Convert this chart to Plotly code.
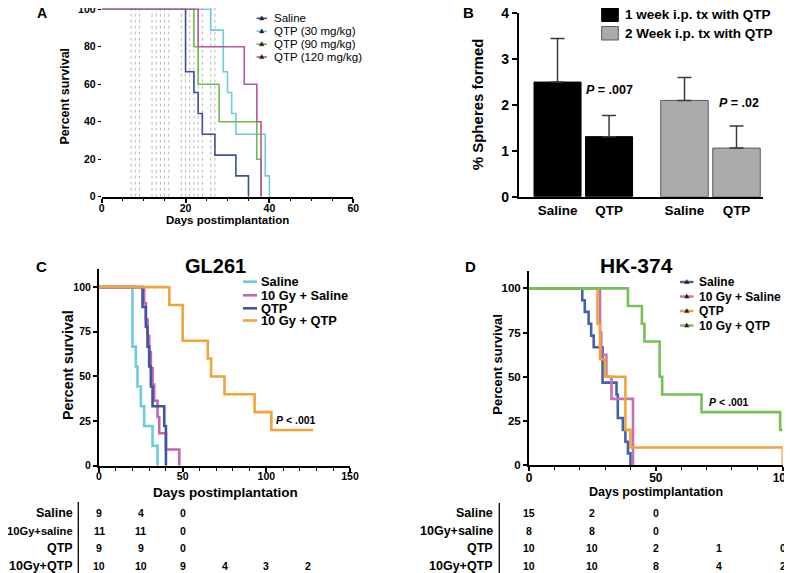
import plotly.graph_objects as go

W, H = 792, 573
OFF = 8  # the page places the figure 8 px from its top-left corner
FONT = "Liberation Sans, Arial, Helvetica, sans-serif"


def fx(p):
    return (p - OFF) / W


def fy(p):
    return min(1.0, max(0.0, 1 - (p - OFF) / H))


# ---------------- Panel A data ----------------
a_days_saline = [0, 20, 22, 23, 24, 27, 32, 35]
a_surv_saline = [100, 66.7, 55.6, 44.4, 33.3, 22.2, 11.1, 0]
a_days_qtp30 = [0, 26, 29, 30, 31, 32, 39, 40]
a_surv_qtp30 = [100, 88.9, 66.7, 55.6, 44.4, 33.3, 11.1, 0]
a_days_qtp90 = [0, 22, 23, 28, 37, 38]
a_surv_qtp90 = [100, 80, 60, 40, 20, 0]
a_days_qtp120 = [0, 23, 34, 37, 38]
a_surv_qtp120 = [100, 80, 60, 40, 0]
a_treatment_days = [7, 8, 9, 12, 13, 14, 15, 16, 19, 20, 21, 22, 23, 24, 26, 27]
a_names = ["Saline", "QTP (30 mg/kg)", "QTP (90 mg/kg)", "QTP (120 mg/kg)"]

# ---------------- Panel B data ----------------
b_categories = ["Saline", "QTP"]
b_week1_values = [2.5, 1.31]
b_week1_err = [0.95, 0.46]
b_week2_values = [2.1, 1.06]
b_week2_err = [0.5, 0.48]
b_series_names = ["1 week i.p. tx with QTP", "2 Week i.p. tx with QTP"]

# ---------------- Panel C data (GL261) ----------------
c_days_saline = [0, 20, 22, 23, 25, 27, 32, 35]
c_surv_saline = [100, 66.7, 55.6, 44.4, 33.3, 22.2, 11.1, 0]
c_days_10gy_saline = [0, 27, 28, 29, 30, 31, 32, 33, 35, 36, 40, 48]
c_surv_10gy_saline = [100, 90.9, 81.8, 72.7, 63.6, 54.5, 45.5, 36.4, 27.3, 18.2, 9.1, 0]
c_days_qtp = [0, 26, 28, 29, 30, 31, 32, 39, 40]
c_surv_qtp = [100, 88.9, 77.8, 66.7, 55.6, 44.4, 33.3, 22.2, 0]
c_days_10gy_qtp = [0, 42, 50, 65, 67, 75, 93, 103, 128]
c_surv_10gy_qtp = [100, 90, 70, 60, 50, 40, 30, 20, 20]
c_names = ["Saline", "10 Gy + Saline", "QTP", "10 Gy + QTP"]

# ---------------- Panel D data (HK-374) ----------------
d_days_saline = [0, 21, 22, 23.5, 24.5, 25.5, 29, 34.5, 35, 37, 38, 39, 40]
d_surv_saline = [100, 93.3, 86.7, 80, 73.3, 66.7, 46.7, 40, 26.7, 20, 13.3, 6.7, 0]
d_days_10gy_saline = [0, 28, 28.5, 30.5, 32.5, 41]
d_surv_10gy_saline = [100, 75, 62.5, 50, 37.5, 0]
d_days_qtp = [0, 27, 28, 30, 38, 40, 100]
d_surv_qtp = [100, 80, 60, 50, 20, 10, 0]
d_days_10gy_qtp = [0, 39, 44.5, 45.5, 51.5, 52.5, 68, 99, 100]
d_surv_10gy_qtp = [100, 90, 80, 70, 50, 40, 30, 20, 20]
d_names = ["Saline", "10 Gy + Saline", "QTP", "10 Gy + QTP"]

# ---------------- Numbers at risk ----------------
risk_row_labels = ["Saline", "10Gy+saline", "QTP", "10Gy+QTP"]
c_risk_days = [0, 25, 50, 75, 100, 125]
c_risk_saline = [9, 4, 0]
c_risk_10gy_saline = [11, 11, 0]
c_risk_qtp = [9, 9, 0]
c_risk_10gy_qtp = [10, 10, 9, 4, 3, 2]
d_risk_days = [0, 25, 50, 75, 100]
d_risk_saline = [15, 2, 0]
d_risk_10gy_saline = [8, 8, 0]
d_risk_qtp = [10, 10, 2, 1, 0]
d_risk_10gy_qtp = [10, 10, 8, 4, 2]

# ---------------- colours ----------------
A_COLORS = ["#3c4f9b", "#6fcbdc", "#6cbb4c", "#b4589f"]
B_COLORS = ["#000000", "#ababab"]
B_EDGES = ["#000000", "#5a5a5a"]
C_COLORS = ["#6ccbdf", "#c267ae", "#3d55a3", "#f2a33a"]
D_COLORS = ["#4262ad", "#c670b8", "#f1a33a", "#74c156"]

fig = go.Figure()


def km(x, y, name, color, width, xa, ya):
    return go.Scatter(x=x, y=y, name=name, mode="lines",
                      line=dict(color=color, width=width, shape="hv"),
                      xaxis=xa, yaxis=ya, showlegend=False, hoverinfo="skip")


# Panel A
for d, s, n, c in zip([a_days_saline, a_days_qtp30, a_days_qtp90, a_days_qtp120],
                      [a_surv_saline, a_surv_qtp30, a_surv_qtp90, a_surv_qtp120],
                      a_names, A_COLORS):
    fig.add_trace(km(d, s, n, c, 1.6, "x", "y"))

# Panel B
for vals, errs, name, col, edge, xa in zip([b_week1_values, b_week2_values], [b_week1_err, b_week2_err],
                                           b_series_names, B_COLORS, B_EDGES, ["x2", "x3"]):
    fig.add_trace(go.Bar(x=b_categories, y=vals, name=name,
                         marker=dict(color=col, line=dict(color=edge, width=1)),
                         error_y=dict(type="data", array=errs, arrayminus=[0] * len(errs), symmetric=False,
                                      color="#3a3a3a", thickness=1.5, width=7),
                         xaxis=xa, yaxis="y2", showlegend=False, hoverinfo="skip"))

# Panel C
for d, s, n, c in zip([c_days_saline, c_days_10gy_saline, c_days_qtp, c_days_10gy_qtp],
                      [c_surv_saline, c_surv_10gy_saline, c_surv_qtp, c_surv_10gy_qtp],
                      c_names, C_COLORS):
    fig.add_trace(km(d, s, n, c, 2.6, "x4", "y3"))

# Panel D
for d, s, n, c in zip([d_days_saline, d_days_10gy_saline, d_days_qtp, d_days_10gy_qtp],
                      [d_surv_saline, d_surv_10gy_saline, d_surv_qtp, d_surv_10gy_qtp],
                      d_names, D_COLORS):
    fig.add_trace(km(d, s, n, c, 2.6, "x5", "y4"))


def tf(size):
    return dict(family=FONT, size=size, color="black", weight="bold")


common = dict(showgrid=False, zeroline=False, linecolor="black", tickcolor="black",
              ticklabeloverflow="allow")

A_YMAX = 100.6
A_PX_PER_UNIT = (196.7 - 9.3) / 100

layout = dict(
    width=W, height=H, margin=dict(l=0, r=0, t=0, b=0, pad=0, autoexpand=False),
    paper_bgcolor="white", plot_bgcolor="rgba(0,0,0,0)",
    font=dict(family=FONT, color="black"),
    bargap=0.087, showlegend=False,
    # Panel A
    xaxis=dict(domain=[fx(101.7), fx(353.3)], range=[0, 60], anchor="y", showline=True, linewidth=1.6,
               ticks="outside", ticklen=4, tickwidth=1.5, dtick=20, tickfont=tf(10.5), ticklabelstandoff=-3,
               minor=dict(dtick=5, ticks="outside", ticklen=2.5, tickwidth=1, tickcolor="black"), **common),
    yaxis=dict(domain=[fy(196.7), fy(9.3 - (A_YMAX - 100) * A_PX_PER_UNIT)], range=[0, A_YMAX],
               anchor="x", showline=False,
               ticks="outside", ticklen=3, tickwidth=1.2, tickvals=[0, 20, 40, 60, 80, 100],
               tickfont=tf(10.5), **common),
    # Panel B
    xaxis2=dict(domain=[fx(518.9), fx(659.0)], range=[-0.75, 1.97], type="category",
                categoryorder="array", categoryarray=b_categories, anchor="y2", showline=True,
                linewidth=2, ticks="", tickfont=tf(13.5), ticklabelstandoff=0, **common),
    xaxis3=dict(domain=[fx(658.5), fx(762.5)], range=[-0.5, 1.5], type="category",
                categoryorder="array", categoryarray=b_categories, anchor="y2", showline=True,
                linewidth=2, ticks="", tickfont=tf(13.5), ticklabelstandoff=0, **common),
    yaxis2=dict(domain=[fy(196.7), fy(13.3)], range=[0, 4], anchor="x2", showline=True, linewidth=2,
                ticks="outside", ticklen=5, tickwidth=2, dtick=1, tickfont=tf(14), **common),
    # Panel C
    xaxis4=dict(domain=[fx(99), fx(350)], range=[0, 150], anchor="y3", showline=True, linewidth=2,
                ticks="outside", ticklen=4, tickwidth=1.5, dtick=50, tickfont=tf(10.5), ticklabelstandoff=-4,
                minor=dict(dtick=10, ticks="outside", ticklen=3, tickwidth=1, tickcolor="black"), **common),
    yaxis3=dict(domain=[fy(465.7), fy(269.3)], range=[0, 110], anchor="x4", showline=True, linewidth=2,
                ticks="outside", ticklen=4, tickwidth=1.5, tickvals=[0, 25, 50, 75, 100],
                tickfont=tf(10.5), **common),
    # Panel D
    xaxis5=dict(domain=[fx(529), fx(782.7)], range=[0, 100], anchor="y4", showline=True, linewidth=2,
                ticks="outside", ticklen=4, tickwidth=1.5, dtick=50, tickfont=tf(12), ticklabelstandoff=-4,
                minor=dict(dtick=10, ticks="outside", ticklen=3, tickwidth=1, tickcolor="black"), **common),
    yaxis4=dict(domain=[fy(465.2), fy(270.7)], range=[0, 110], anchor="x5", showline=True, linewidth=2,
                ticks="outside", ticklen=4, tickwidth=1.5, tickvals=[0, 25, 50, 75, 100],
                tickfont=tf(11.5), **common),
)
fig.update_layout(**layout)

shapes = []
annotations = []

# treatment-day dotted lines in panel A
for day in a_treatment_days:
    shapes.append(dict(type="line", xref="x", yref="paper", x0=day, x1=day, y0=fy(196.7), y1=1,
                       line=dict(color="#a8a8a8", width=0.8, dash="dot"), layer="below"))


def ann(text, x, y, size, bold=True, xanchor="center", angle=0, xref="paper"):
    f = dict(family=FONT, size=size, color="black")
    if bold:
        f["weight"] = "bold"
    annotations.append(dict(text=text, x=x, y=y, xref=xref, yref="paper", xanchor=xanchor,
                            yanchor="middle", showarrow=False, textangle=angle, font=f))


def line_legend(names, colors, x0, x1, xt, rows, size, bold, lw, tri):
    for name, col, yy in zip(names, colors, rows):
        shapes.append(dict(type="line", xref="paper", yref="paper", x0=fx(x0), x1=fx(x1),
                           y0=fy(yy), y1=fy(yy), line=dict(color=col, width=lw)))
        if tri:
            xm = (x0 + x1) / 2
            path = "M {:.5f},{:.5f} L {:.5f},{:.5f} L {:.5f},{:.5f} Z".format(
                fx(xm - 2.2), fy(yy + 1.6), fx(xm + 2.2), fy(yy + 1.6), fx(xm), fy(yy - 2.4))
            shapes.append(dict(type="path", xref="paper", yref="paper", path=path,
                               fillcolor="#222222", line=dict(color="#222222", width=0.5)))
        ann(name, fx(xt), fy(yy), size, bold=bold, xanchor="left")


# legends
line_legend(a_names, A_COLORS, 256.5, 267, 272, [18.3, 31.3, 44.2, 57], 11.5, False, 1.6, True)
line_legend(c_names, C_COLORS, 243, 257, 258.5, [281.7, 295.3, 308.3, 320.5], 12.8, True, 2.6, False)
line_legend(d_names, D_COLORS, 680, 693.5, 697, [282, 296.5, 311, 325.5], 12, True, 2.4, True)
for name, col, edge, yy in zip(b_series_names, B_COLORS, B_EDGES, [14.5, 33]):
    shapes.append(dict(type="rect", xref="paper", yref="paper", x0=fx(601.7), x1=fx(618.3),
                       y0=fy(yy + 7), y1=fy(yy - 6.5), fillcolor=col, line=dict(color=edge, width=1)))
    ann(name, fx(622.5), fy(yy), 13.5, xanchor="left")

# panel letters
ann("A", fx(41.7), fy(13), 14)
ann("B", fx(468.3), fy(12.5), 15)
ann("C", fx(41.7), fy(266.7), 15)
ann("D", fx(470), fy(266.7), 15)

# titles
ann("GL261", fx(215.8), fy(266), 20)
ann("HK-374", fx(636.7), fy(266), 21)

# axis titles
ann("Percent survival", fx(65), fy(96.5), 12.5, angle=-90)
ann("Days postimplantation", fx(227.5), fy(220), 11.5)
ann("% Spheres formed", fx(478.3), fy(104), 15, angle=-90)
ann("Percent survival", fx(68), fy(365), 14.2, angle=-90)
ann("Days postimplantation", fx(225), fy(492.3), 13.5)
ann("Percent survival", fx(496.7), fy(365), 13, angle=-90)
ann("Days postimplantation", fx(655.7), fy(492), 12.5)

# p-values
ann("<i>P</i> = .007", fx(609.5), fy(90), 12.5)
ann("<i>P</i> = .02", fx(738.7), fy(103.3), 12.5)
ann("<i>P</i> &lt; .001", fx(295.8), fy(420), 10.5)
ann("<i>P</i> &lt; .001", fx(729.2), fy(401.7), 10.5)

# numbers at risk tables
row_y = [513.3, 531, 548.3, 566]
c_label_sizes = [12.5, 11.2, 12.5, 12.5]
for lab, yy, cs in zip(risk_row_labels, row_y, c_label_sizes):
    ann(lab, fx(74.5), fy(yy), cs, xanchor="right")
    ann(lab, fx(495.5), fy(yy), 12.5, xanchor="right")

for counts, yy in zip([c_risk_saline, c_risk_10gy_saline, c_risk_qtp, c_risk_10gy_qtp], row_y):
    for day, n in zip(c_risk_days, counts):
        ann(str(n), day, fy(yy), 10.5, xref="x4")
for counts, yy in zip([d_risk_saline, d_risk_10gy_saline, d_risk_qtp, d_risk_10gy_qtp], row_y):
    for day, n in zip(d_risk_days, counts):
        ann(str(n), day, fy(yy), 10.5, xref="x5")

shapes.append(dict(type="line", xref="paper", yref="paper", x0=fx(78.3), x1=fx(78.3), y0=fy(502), y1=fy(573),
                   line=dict(color="black", width=1.3)))
shapes.append(dict(type="line", xref="paper", yref="paper", x0=fx(499.3), x1=fx(499.3), y0=fy(503), y1=fy(573),
                   line=dict(color="black", width=1.3)))

fig.update_layout(shapes=shapes, annotations=annotations)

fig.write_html("out.html")
